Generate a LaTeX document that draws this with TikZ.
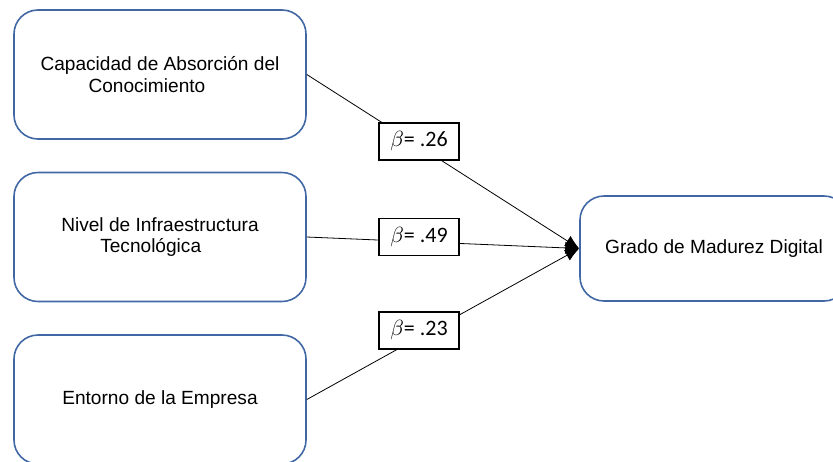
\documentclass[tikz,border=0pt]{standalone}
\usepackage{fontspec}
\setmainfont{Liberation Sans}
\newfontfamily\calfont{Carlito}
\usetikzlibrary{arrows.meta,positioning}
\definecolor{boxblue}{RGB}{65,104,165}

\begin{document}
\begin{tikzpicture}[
  x=0.5pt, y=-0.5pt,
  block/.style={draw=boxblue, line width=0.8pt, rounded corners=12pt,
    minimum width=146pt, minimum height=64.5pt, align=left, inner sep=0pt,
    font=\fontsize{9.55}{10.75}\selectfont},
  target/.style={block, minimum width=134pt, minimum height=52.5pt},
  coef/.style={draw, line width=0.8pt, fill=white, minimum width=40pt,
    minimum height=18.5pt, inner sep=0pt, font=\calfont\fontsize{11}{12}\selectfont},
  arrow/.style={-{Latex[length=7pt,width=6pt]}, line width=0.4pt}
]
\useasboundingbox (0,0) rectangle (833,461);

\node[block] (absorcion) at (160,74.5) {Capacidad de Absorción del\\\hspace{24pt}Conocimiento};
\node[block] (infra) at (160,237) {Nivel de Infraestructura\\\hspace{19.5pt}Tecnológica};
\node[block] (entorno) at (160,399.5) {Entorno de la Empresa};
\node[target] (madurez) at (714,248.5) {Grado de Madurez Digital};

\draw[arrow] (absorcion.east) -- (madurez.west);
\draw[arrow] (infra.east) -- (madurez.west);
\draw[arrow] (entorno.east) -- (madurez.west);

\node[coef] (b1) at (419,141.5) {$\beta$= .26};
\node[coef] (b2) at (419,237) {$\beta$= .49};
\node[coef] (b3) at (419,330.5) {$\beta$= .23};
\end{tikzpicture}
\end{document}
